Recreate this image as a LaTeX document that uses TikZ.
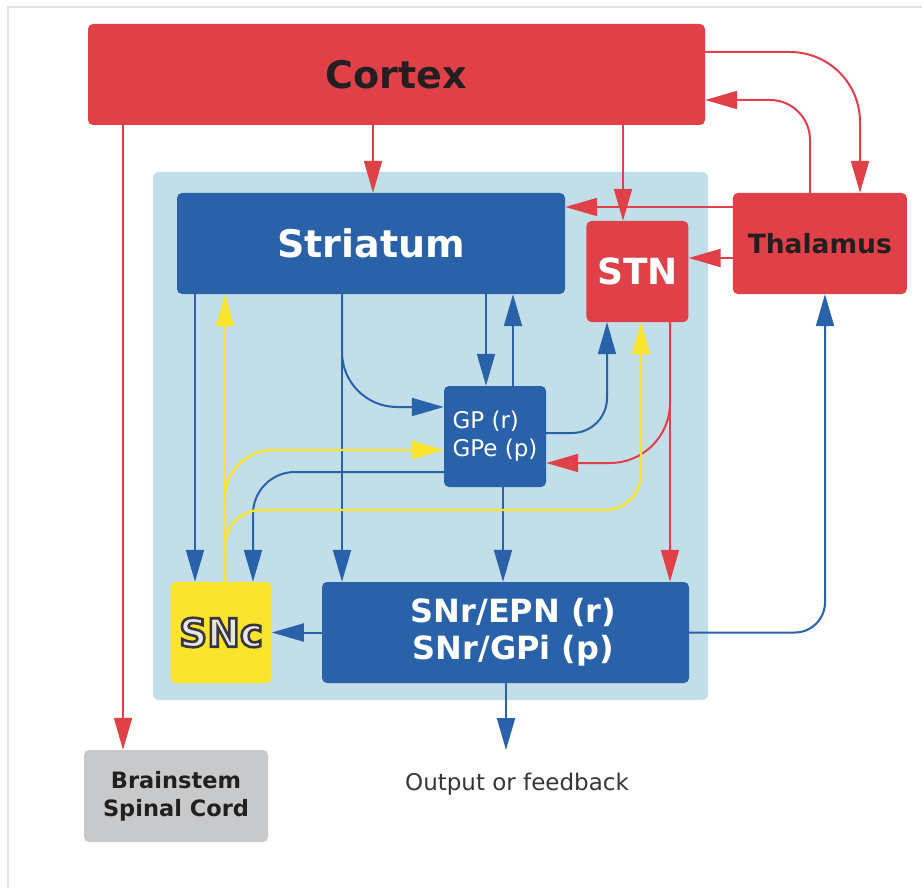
\documentclass[tikz,border=0pt]{standalone}
\usepackage{fontspec}
\setmainfont{DejaVu Sans}
\usetikzlibrary{arrows.meta,positioning}

\definecolor{nucred}{RGB}{224,64,72}
\definecolor{nucblue}{RGB}{41,98,168}
\definecolor{bgpale}{RGB}{194,222,232}
\definecolor{dopa}{RGB}{250,228,46}
\definecolor{stemgray}{RGB}{200,201,203}
\definecolor{ink}{RGB}{35,31,32}
\definecolor{framegray}{RGB}{226,226,226}

% outlined label: fill and stroke the glyphs
\newcommand{\rimtext}[1]{\special{pdf:literal q 2 Tr 2.6 w 0.22 0.21 0.21 RG 0.9 0.9 0.9 rg}#1\special{pdf:literal Q}}

\begin{document}
\begin{tikzpicture}[
  x=1pt, y=-1pt,
  nucleus/.style={inner sep=0pt, rounded corners=5pt, minimum height=101pt},
  redbox/.style={nucleus, fill=nucred},
  bluebox/.style={nucleus, fill=nucblue, text=white},
  big/.style={font=\fontsize{38}{44}\selectfont\bfseries},
  rpath/.style={draw=nucred, line width=2pt, ->},
  bpath/.style={draw=nucblue, line width=2pt, ->},
  ypath/.style={draw=dopa, line width=2.4pt, ->},
  >={Triangle[length=32pt,width=18pt]}
]
\useasboundingbox (0,0) rectangle (922,888);
\draw[framegray, line width=1.5pt] (8,888) -- (8,7) -- (922,7);

% basal ganglia area
\fill[bgpale, rounded corners=6pt] (153,172) rectangle (708,700);

\node[redbox, big, text=ink, minimum width=617pt] (cortex) at (396.5,74.5) {Cortex};
\node[bluebox, big, minimum width=388pt] (striatum) at (371,243.5) {Striatum};
\node[redbox, text=white, font=\fontsize{36}{40}\selectfont\bfseries, minimum width=102pt,
  right=21pt of striatum, yshift=-28pt] (stn) {STN};
\node[redbox, text=ink, font=\fontsize{26.5}{30}\selectfont\bfseries, minimum width=174pt,
  right=44pt of stn, yshift=28pt] (thalamus) {Thalamus};
\node[bluebox, font=\fontsize{23}{28}\selectfont, align=left, minimum width=102pt] (gp) at (495,436.5) {GP (r)\\GPe (p)};
\node[bluebox, font=\fontsize{32}{37}\selectfont\bfseries, align=center, minimum width=367pt] (snr) at (505.5,632.5) {\hspace*{16pt}SNr/EPN (r)\\\hspace*{16pt}SNr/GPi (p)};
\node[nucleus, fill=dopa, minimum width=101pt, font=\fontsize{39}{44}\selectfont\bfseries,
  left=50pt of snr] (snc) {\rimtext{SNc}};
\node[nucleus, fill=stemgray, text=ink, font=\fontsize{22.5}{28}\selectfont\bfseries, align=center,
  minimum width=184pt, minimum height=92pt] (stem) at (176,796) {Brainstem\\Spinal Cord};
\node[anchor=base, text=ink!90, font=\fontsize{23}{28}\selectfont] (out) at (517,790) {Output or feedback};
\coordinate (outtip) at (506,750);

% cortex
\draw[rpath] (cortex.south -| 123,0) -- (stem.north -| 123,0);
\draw[rpath] (cortex.south -| 373,0) -- (striatum.north -| 373,0);
\draw[rpath] (cortex.south -| 623,0) -- (stn.north -| 623,0);
\draw[rpath, rounded corners=70pt] (cortex.east |- 0,52) -| (thalamus.north -| 860,0);
% thalamus
\draw[rpath, rounded corners=40pt] (thalamus.north -| 810,0) |- (cortex.east |- 0,100);
\draw[rpath] (thalamus.west |- 0,207) -- (striatum.east |- 0,207);
\draw[rpath] (thalamus.west |- 0,258) -- (stn.east |- 0,258);
% stn
\draw[rpath] (stn.south -| 670,0) -- (snr.north -| 670,0);
\draw[rpath, rounded corners=60pt] (stn.south -| 670,0) |- (gp.east |- 0,463);
% striatum
\draw[bpath] (striatum.south -| 195,0) -- (snc.north -| 195,0);
\draw[bpath] (striatum.south -| 342,0) -- (snr.north -| 342,0);
\draw[bpath, rounded corners=55pt] (striatum.south -| 342,0) |- (gp.west |- 0,407);
\draw[bpath] (striatum.south -| 486,0) -- (gp.north -| 486,0);
% gp
\draw[bpath] (gp.north -| 513,0) -- (striatum.south -| 513,0);
\draw[bpath, rounded corners=35pt] (gp.east |- 0,433) -| (stn.south -| 607,0);
\draw[bpath, rounded corners=42pt] (gp.west |- 0,472) -| (snc.north -| 253,0);
\draw[bpath] (gp.south -| 503,0) -- (snr.north -| 503,0);
% snr
\draw[bpath] (snr.west) -- (snc.east);
\draw[bpath, rounded corners=30pt] (snr.east) -| (thalamus.south -| 825,0);
\draw[bpath] (snr.south -| 506,0) -- (outtip);
% snc
\draw[ypath] (snc.north -| 225,0) -- (striatum.south -| 225,0);
\draw[ypath, rounded corners=48pt] (snc.north -| 225,0) |- (gp.west |- 0,450);
\draw[ypath, rounded corners=36pt] (snc.north -| 225,0) -- (225,510) -- (641,510) -- (stn.south -| 641,0);
\end{tikzpicture}
\end{document}
